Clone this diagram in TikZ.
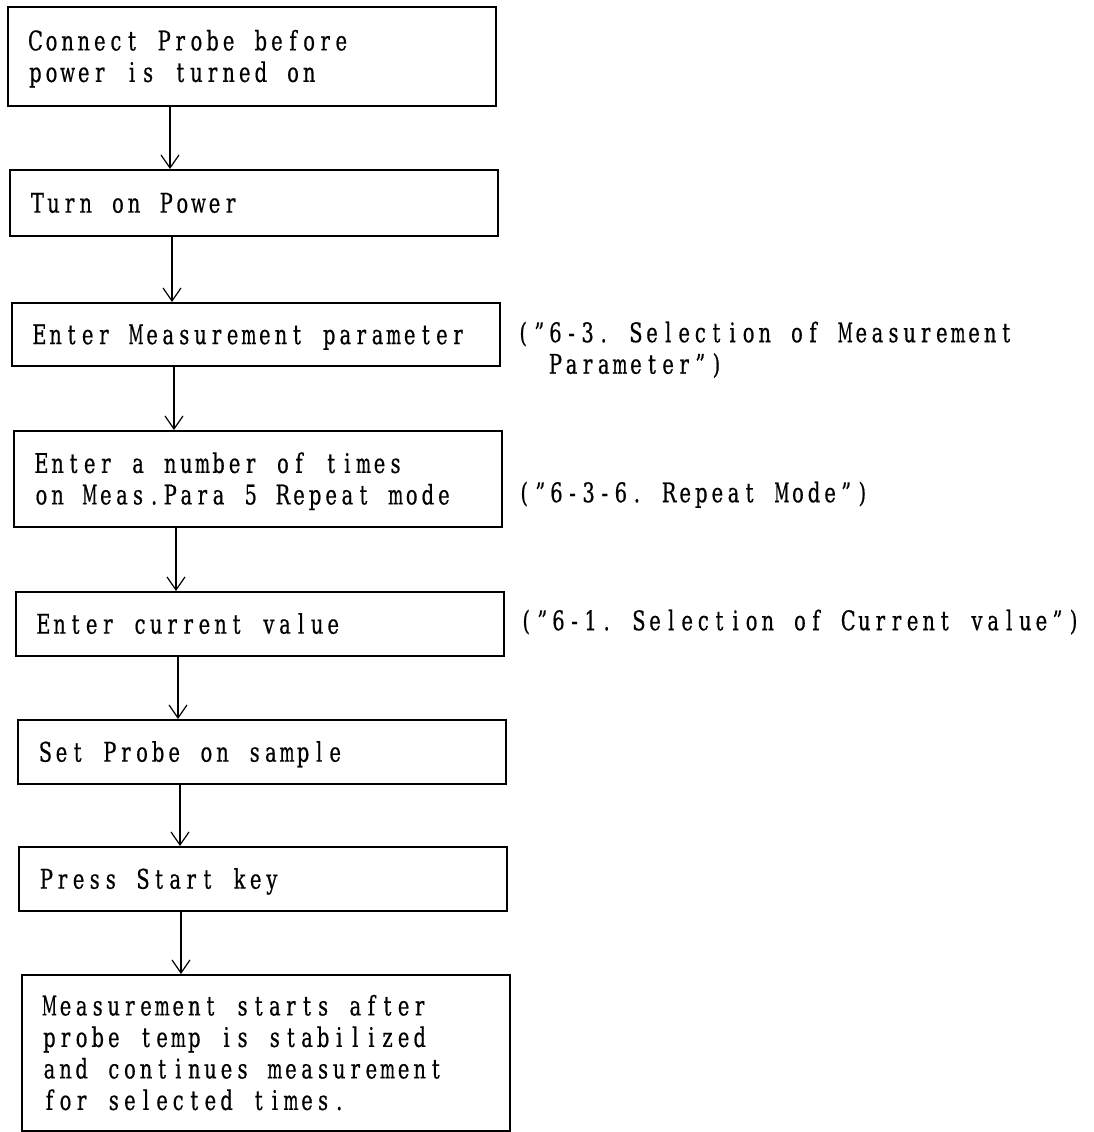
\documentclass[tikz,border=0pt]{standalone}
\usepackage{fontspec}
\usepackage{graphicx}
\setmainfont{DejaVu Serif}[FakeStretch=0.72,FakeBold=0.6]
\usetikzlibrary{arrows.meta,calc}

% Fixed-pitch typesetting: every character sits in a cell of equal width,
% over-wide glyphs are squeezed to fit.
\newlength\cellwd \setlength\cellwd{16.1pt}
\newlength\glyphmax \setlength\glyphmax{15pt}
\newsavebox\glyphbox
\def\monoend{\monoend}
\newcommand\monocell[1]{%
  \sbox\glyphbox{#1}%
  \ifdim\wd\glyphbox>\glyphmax
    \makebox[\cellwd][c]{\resizebox{\glyphmax}{\height}{#1}}%
  \else
    \makebox[\cellwd][c]{#1}%
  \fi}
\def\monoloop#1{\ifx#1\monoend\else\monocell{#1}\expandafter\monoloop\fi}
\newcommand\mono[1]{\rule[-6pt]{0pt}{31.5pt}\monoloop#1\monoend}

\tikzset{
  every node/.style={font=\fontsize{27}{31.5}\selectfont},
  stepbox/.style={draw, line width=1.8pt, rectangle, anchor=north west,
    inner xsep=19.5pt, inner ysep=0pt, text width=449pt, align=left},
  note/.style={anchor=north west, inner sep=0pt, align=left},
  arr/.style={line width=1.2pt,
    -{Straight Barb[length=13pt,width=18pt,line width=1.2pt]}},
}

\begin{document}
\begin{tikzpicture}[x=1pt,y=-1pt]
  \fill[white] (0,0) rectangle (1093,1132);
  \useasboundingbox (0,0) rectangle (1093,1132);

  % process steps
  \node[stepbox, minimum height=99pt] (b1) at (7,6)
    {\mono{Connect~Probe~before}\\\mono{power~is~turned~on}};
  \node[stepbox, minimum height=66pt] (b2) at (9,169)
    {\mono{Turn~on~Power}};
  \node[stepbox, minimum height=63pt] (b3) at (11,302)
    {\mono{Enter~Measurement~parameter}};
  \node[stepbox, minimum height=96pt] (b4) at (13,430)
    {\mono{Enter~a~number~of~times}\\\mono{on~Meas.Para~5~Repeat~mode}};
  \node[stepbox, minimum height=64pt] (b5) at (15,591)
    {\mono{Enter~current~value}};
  \node[stepbox, minimum height=64pt] (b6) at (17,719)
    {\mono{Set~Probe~on~sample}};
  \node[stepbox, minimum height=64pt] (b7) at (18,846)
    {\mono{Press~Start~key}};
  \node[stepbox, minimum height=156pt] (b8) at (21,974)
    {\mono{Measurement~starts~after}\\\mono{probe~temp~is~stabilized}\\%
     \mono{and~continues~measurement}\\\mono{for~selected~times.}};

  % references to the manual sections
  \node[note] (n3) at (515,316.5)
    {\mono{(”6-3.~Selection~of~Measurement}\\\mono{~~Parameter”)}};
  \node[note] (n4) at (516,476.5)
    {\mono{(”6-3-6.~Repeat~Mode”)}};
  \node[note] (n5) at (518,604.5)
    {\mono{(”6-1.~Selection~of~Current~value”)}};

  % flow arrows
  \foreach \s/\t in {b1/b2,b2/b3,b3/b4,b4/b5,b5/b6,b6/b7,b7/b8}{
    \draw[arr] ($(\s.south west)+(163,0)$) coordinate (p) -- (p |- \t.north);
  }
\end{tikzpicture}
\end{document}
